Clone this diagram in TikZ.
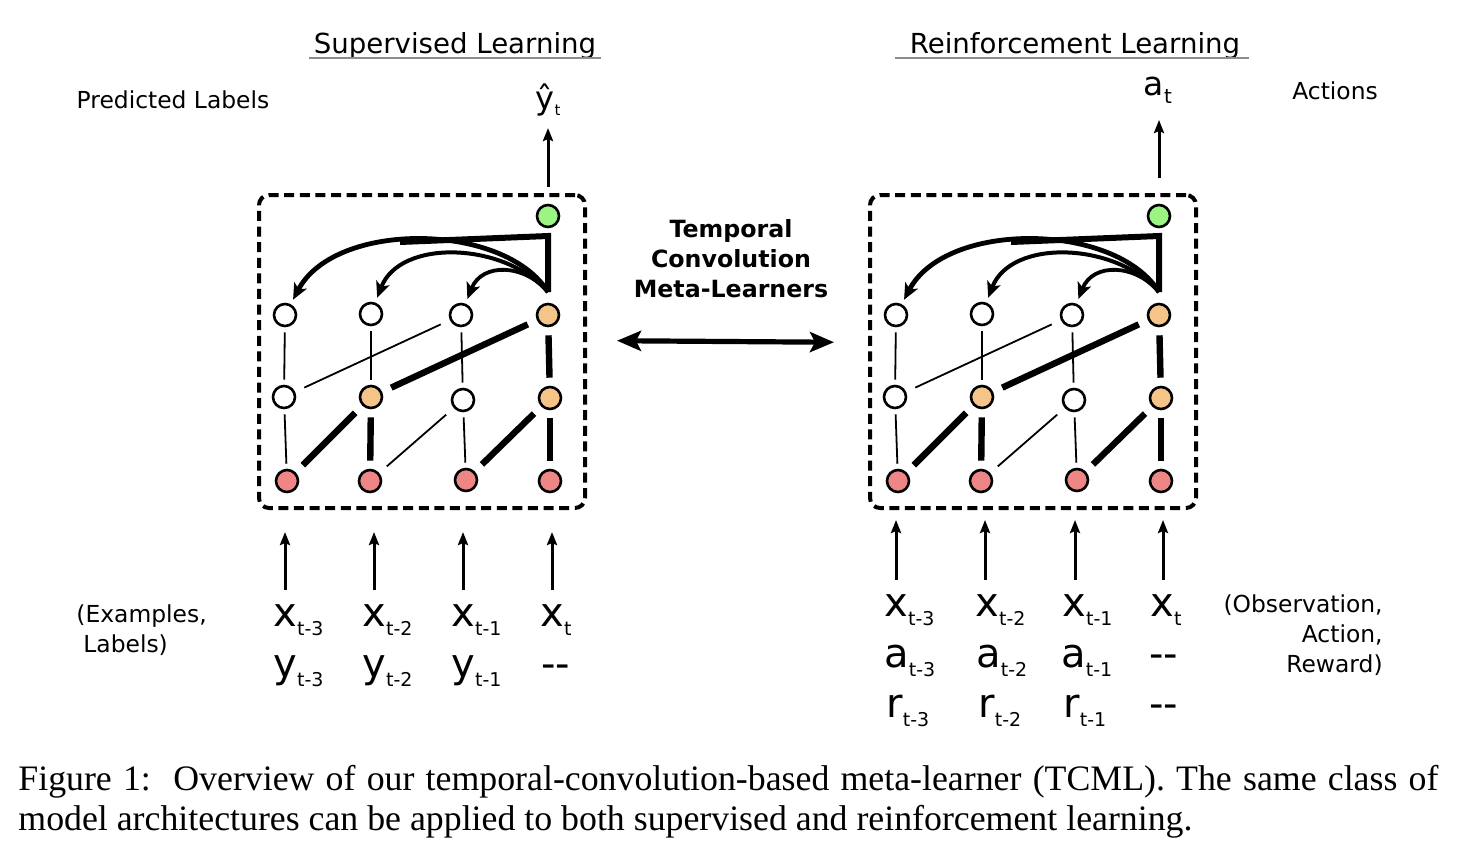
\documentclass[tikz,border=0pt]{standalone}
\usepackage{fontspec}
\setmainfont{DejaVu Sans}
\newfontfamily\capfont{Liberation Serif}
\usetikzlibrary{arrows.meta}
\definecolor{cgreen}{RGB}{155,245,130}
\definecolor{corange}{RGB}{245,196,136}
\definecolor{cred}{RGB}{238,134,134}
\definecolor{ulgray}{RGB}{140,140,140}
\tikzset{
  unit/.style={circle,draw=black,line width=1.3pt,minimum size=11pt,inner sep=0pt},
  inunit/.style={unit,fill=cred},
  hidwhite/.style={unit,fill=white},
  hidact/.style={unit,fill=corange},
  outunit/.style={unit,fill=cgreen},
  thinv/.style={line width=0.9pt,shorten >=2.5pt,shorten <=2.5pt},
  thickv/.style={line width=3.2pt,shorten >=4pt,shorten <=4pt},
  thind/.style={line width=0.9pt,shorten >=5pt,shorten <=5pt},
  thickd/.style={line width=3.2pt,shorten >=5pt,shorten <=5pt},
  netbox/.style={draw=black,line width=2pt,dash pattern=on 5pt off 2.8pt,rounded corners=5pt,minimum width=163pt,minimum height=156.5pt,inner sep=0pt},
  fanarrow/.style={-{Stealth[length=8pt,width=7pt,inset=2pt]},shorten >=2.5pt},
  ioarrow/.style={line width=1.5pt,-{Stealth[length=6.5pt,width=5pt,inset=1pt]}},
  dblarrow/.style={line width=2.6pt,{Stealth[length=12pt,width=10pt,inset=2.5pt]}-{Stealth[length=12pt,width=10pt,inset=2.5pt]}},
  lbl/.style={inner sep=0pt,anchor=base west},
  note/.style={font=\fontsize{11.7}{15}\selectfont,inner sep=0pt},
  title/.style={font=\fontsize{13.8}{16}\selectfont,inner sep=0pt},
  captext/.style={font=\capfont\fontsize{17.9}{20}\selectfont,inner sep=0pt,anchor=base west},
}
\newcommand{\vs}[2]{{\fontsize{20}{24}\selectfont #1}{\fontsize{9.5}{11}\selectfont\raisebox{-4.5pt}{#2}}}
\newcommand{\dd}{{\fontsize{20}{24}\selectfont -{}-}}
\newcommand{\tcmlnet}[2]{%
\begin{scope}[shift={(#2,0)}]
\node[netbox] (#1box) at (422,351.5) {};
\node[outunit] (#1o) at (548,216) {};
\node[hidwhite] (#1t1) at (285,315) {};
\node[hidwhite] (#1t2) at (371,314) {};
\node[hidwhite] (#1t3) at (461,315) {};
\node[hidact] (#1t4) at (548,315) {};
\node[hidwhite] (#1m1) at (284,397) {};
\node[hidact] (#1m2) at (371,397) {};
\node[hidwhite] (#1m3) at (463,400) {};
\node[hidact] (#1m4) at (550,398) {};
\node[inunit] (#1b1) at (287,481) {};
\node[inunit] (#1b2) at (370,481) {};
\node[inunit] (#1b3) at (466,480) {};
\node[inunit] (#1b4) at (550,481) {};
\draw[thinv] (#1b1) -- (#1m1);
\draw[thickv] (#1b2) -- (#1m2);
\draw[thinv] (#1b3) -- (#1m3);
\draw[thickv] (#1b4) -- (#1m4);
\draw[thickd] (#1b1) -- (#1m2);
\draw[thind] (#1b2) -- (#1m3);
\draw[thickd] (#1b3) -- (#1m4);
\draw[thinv] (#1m1) -- (#1t1);
\draw[thinv] (#1m2) -- (#1t2);
\draw[thinv] (#1m3) -- (#1t3);
\draw[thickv] (#1m4) -- (#1t4);
\draw[thind] (#1m1) -- (#1t3);
\draw[thickd] (#1m2) -- (#1t4);
\coordinate (#1src) at (548,292);
\coordinate (#1k1) at (548,236);
\coordinate (#1k2) at (400,242);
\draw[line width=3pt] (#1src) -- (#1k1) -- (#1k2);
\draw[fanarrow,line width=2.4pt] (#1src) .. controls (505,222) and (335,220) .. (#1t1);
\draw[fanarrow,line width=2pt] (#1src) .. controls (505,242) and (400,238) .. (#1t2);
\draw[fanarrow,line width=1.9pt] (#1src) .. controls (525,264) and (482,262) .. (#1t3);
\end{scope}}
\begin{document}
\begin{tikzpicture}[x=0.5pt,y=-0.5pt]
\fill[white] (0,0) rectangle (1462,852);
\path[use as bounding box] (0,0) rectangle (1462,852);
% titles
\node[title] (sup) at (455,46) {Supervised Learning};
\draw[ulgray,line width=1pt] (309,58) -- (601,58);
\node[title] (rl) at (1075,46) {Reinforcement Learning};
\draw[ulgray,line width=1pt] (895,58) -- (1249,58);
% networks
\tcmlnet{L}{0}
\tcmlnet{R}{611}
% center
\node[font=\bfseries\fontsize{11.85}{15}\selectfont,align=center,inner sep=0pt] (tcml) at (731,259) {Temporal\\Convolution\\Meta-Learners};
\draw[dblarrow,shorten <=15pt,shorten >=17pt] ([yshift=5.5pt]Lbox.east) -- ([yshift=4.5pt]Rbox.west);
% outputs
\node[note] (plab) at (173,100) {Predicted Labels};
\node[inner sep=0pt] (yhat) at (548,100) {{\fontsize{16}{18}\selectfont ŷ}{\fontsize{7.5}{9}\selectfont\raisebox{-3pt}{t}}};
\coordinate (Lo0) at (548,187);
\coordinate (Lo1) at (548,128);
\draw[ioarrow] (Lo0) -- (Lo1);
\node[note] (act) at (1335,91) {Actions};
\node[inner sep=0pt] (at) at (1158,90) {{\fontsize{16.5}{18}\selectfont a}{\fontsize{10}{12}\selectfont\raisebox{-4pt}{t}}};
\coordinate (Ro0) at (1159,178);
\coordinate (Ro1) at (1159,120);
\draw[ioarrow] (Ro0) -- (Ro1);
% left inputs
\foreach \i/\xx in {1/285,2/374,3/463,4/552}{
  \coordinate (Li\i a) at (\xx,590);
  \coordinate (Li\i b) at (\xx,532);
  \draw[ioarrow] (Li\i a) -- (Li\i b);
}
\node[lbl] (Lx1) at (273,626) {\vs{x}{t-3}};
\node[lbl] (Lx2) at (362,626) {\vs{x}{t-2}};
\node[lbl] (Lx3) at (451,626) {\vs{x}{t-1}};
\node[lbl] (Lx4) at (540,626) {\vs{x}{t}};
\node[lbl] (Ly1) at (273,677) {\vs{y}{t-3}};
\node[lbl] (Ly2) at (362,677) {\vs{y}{t-2}};
\node[lbl] (Ly3) at (451,677) {\vs{y}{t-1}};
\node[lbl] (Ly4) at (541,677) {\dd};
\node[note,align=left,anchor=west] (exl) at (76,630) {(Examples,\\\hspace{3.5pt}Labels)};
% right inputs
\foreach \i/\xx in {1/896,2/985,3/1075,4/1163}{
  \coordinate (Ri\i a) at (\xx,580);
  \coordinate (Ri\i b) at (\xx,520);
  \draw[ioarrow] (Ri\i a) -- (Ri\i b);
}
\node[lbl] (Rx1) at (884,616) {\vs{x}{t-3}};
\node[lbl] (Rx2) at (975,616) {\vs{x}{t-2}};
\node[lbl] (Rx3) at (1062,616) {\vs{x}{t-1}};
\node[lbl] (Rx4) at (1150,616) {\vs{x}{t}};
\node[lbl] (Ra1) at (884,667) {\vs{a}{t-3}};
\node[lbl] (Ra2) at (976,667) {\vs{a}{t-2}};
\node[lbl] (Ra3) at (1061,667) {\vs{a}{t-1}};
\node[lbl] (Ra4) at (1149,667) {\dd};
\node[lbl] (Rr1) at (886,717) {\vs{r}{t-3}};
\node[lbl] (Rr2) at (978,717) {\vs{r}{t-2}};
\node[lbl] (Rr3) at (1063,717) {\vs{r}{t-1}};
\node[lbl] (Rr4) at (1149,717) {\dd};
\node[note,align=right,anchor=east] (oar) at (1383,635) {(Observation,\\Action,\\Reward)};
% caption
\node[captext] (cap1) at (18,790) {\hbox to 710pt{Figure 1:\ \ Overview of our temporal-convolution-based meta-learner (TCML). The same class of}};
\node[captext] (cap2) at (18,830) {model architectures can be applied to both supervised and reinforcement learning.};
\end{tikzpicture}
\end{document}
